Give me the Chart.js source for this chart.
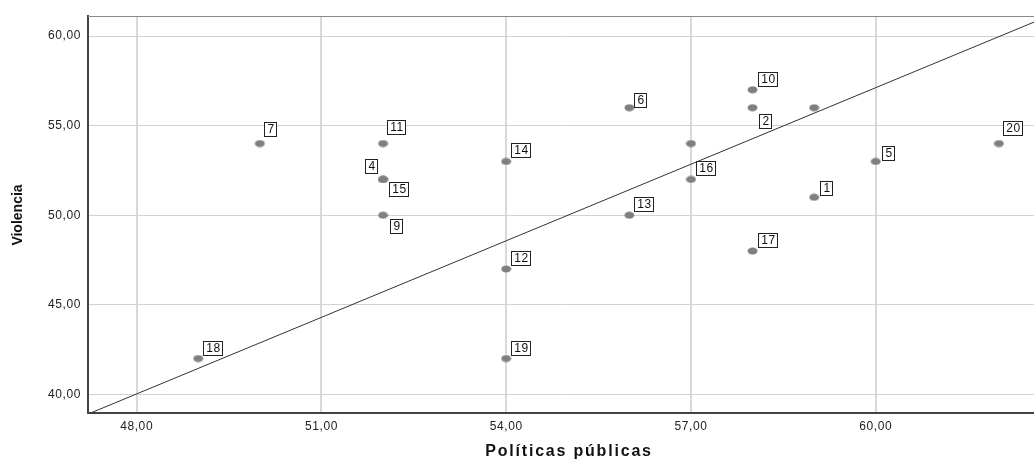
<!DOCTYPE html>
<html lang="es">
<head>
<meta charset="UTF-8">
<title>Violencia vs Políticas públicas</title>
<script src="https://cdn.jsdelivr.net/npm/chart.js"></script>
<style>
  html, body { margin: 0; padding: 0; background: #fff; overflow: hidden; }
  #wrap { width: 1034px; height: 460px; position: relative; }
</style>
</head>
<body>
<div id="wrap"><canvas id="chart"></canvas></div>
<script>
// case data
const caseLabels = ['1', '2', '', '4', '5', '6', '7', '', '9', '10', '11', '12', '13', '14', '15', '16', '17', '18', '19', '20'];
const politicas = [59, 58, 57, 52, 60, 56, 50, 59, 52, 58, 52, 54, 56, 54, 52, 57, 58, 49, 54, 62];
const violencia = [51, 56, 54, 52, 53, 56, 54, 56, 50, 57, 54, 47, 50, 53, 52, 52, 48, 42, 42, 54];

// reference line end points
const lineX = [47.21, 62.57];
const lineY = [38.9, 60.78];

const xTicks = [48, 51, 54, 57, 60];
const yTicks = [40, 45, 50, 55, 60];
const xRange = [47.21, 62.57];
const yRange = [38.96, 61.12];

// label box placement (style): anchor corner + offset from point
const labelPlace = {
    '4':  { side: 'ul', dx: -5, dy: -5 },
    '15': { side: 'dr', dx: 6, dy: 3 },
    '9':  { side: 'dr', dx: 7, dy: 4 },
    '2':  { side: 'dr', dx: 6, dy: 6 },
    '7':  { side: 'ur', dx: 4, dy: -7 },
    '11': { side: 'ur', dx: 4, dy: -9 },
    '20': { side: 'ur', dx: 4, dy: -8 },
    '6':  { side: 'ur', dx: 5, dy: 0 },
    '5':  { side: 'ur', dx: 6, dy: 0 },
    '1':  { side: 'ur', dx: 6, dy: -1 }
};

const FONT = "'Liberation Sans', Arial, sans-serif";

function fmt(v) {
    return Number(v).toFixed(2).replace('.', ',');
}

// grey oval marker
const dot = document.createElement('canvas');
dot.width = 11; dot.height = 8;
(function () {
    const c = dot.getContext('2d');
    c.fillStyle = '#7f7f7f';
    c.beginPath();
    c.ellipse(5.5, 4, 5, 3.5, 0, 0, Math.PI * 2);
    c.fill();
})();

const points = politicas.map((x, i) => ({ x: x, y: violencia[i] }));
const linePts = lineX.map((x, i) => ({ x: x, y: lineY[i] }));

const framePlugin = {
    id: 'frame',
    beforeDraw(chart) {
        // SPSS-like loose letter spacing on tick labels
        chart.ctx.letterSpacing = '0.6px';
    },
    afterDraw(chart) {
        const ctx = chart.ctx;
        const a = chart.chartArea;
        ctx.save();
        ctx.strokeStyle = '#8a8a8a';
        ctx.lineWidth = 1;
        ctx.beginPath();
        ctx.moveTo(a.left, a.top + 0.5);
        ctx.lineTo(a.right, a.top + 0.5);
        ctx.stroke();

        // axis titles
        ctx.fillStyle = '#111';
        ctx.textAlign = 'center';
        ctx.textBaseline = 'middle';
        ctx.letterSpacing = '1.8px';
        ctx.font = 'bold 16px ' + FONT;
        ctx.fillText('Políticas públicas', 569, 452);
        ctx.letterSpacing = '0px';
        ctx.translate(18, 215);
        ctx.rotate(-Math.PI / 2);
        ctx.font = 'bold 14px ' + FONT;
        ctx.fillText('Violencia', 0, 0);
        ctx.restore();
        ctx.letterSpacing = '0px';
    }
};

const labelPlugin = {
    id: 'caseLabels',
    afterDatasetsDraw(chart) {
        const ctx = chart.ctx;
        const meta = chart.getDatasetMeta(1);
        ctx.save();
        ctx.letterSpacing = '0.5px';
        ctx.font = '12px ' + FONT;
        ctx.textBaseline = 'middle';
        ctx.textAlign = 'center';
        meta.data.forEach((el, i) => {
            const txt = caseLabels[i];
            if (!txt) return;
            const p = labelPlace[txt] || { side: 'ur', dx: 5, dy: -3 };
            const w = Math.round(ctx.measureText(txt).width) + 6;
            const h = 15;
            let left, top;
            if (p.side === 'ur') { left = el.x + p.dx; top = el.y + p.dy - h; }
            else if (p.side === 'dr') { left = el.x + p.dx; top = el.y + p.dy; }
            else { left = el.x + p.dx - w; top = el.y + p.dy - h; }
            left = Math.round(left); top = Math.round(top);
            ctx.fillStyle = '#fff';
            ctx.fillRect(left, top, w, h);
            ctx.strokeStyle = '#222';
            ctx.lineWidth = 1;
            ctx.strokeRect(left + 0.5, top + 0.5, w - 1, h - 1);
            ctx.fillStyle = '#111';
            ctx.fillText(txt, left + w / 2 + 0.5, top + h / 2 + 0.5);
        });
        ctx.restore();
    }
};

new Chart(document.getElementById('chart'), {
    type: 'scatter',
    data: {
        datasets: [{
            type: 'line',
            data: linePts,
            borderColor: '#333',
            borderWidth: 1,
            pointRadius: 0,
            fill: false
        }, {
            data: points,
            pointStyle: dot,
            pointRadius: 5,
            pointHoverRadius: 5
        }]
    },
    options: {
        responsive: true,
        maintainAspectRatio: false,
        animation: false,
        layout: { autoPadding: false, padding: { top: 16, left: 0, right: 0, bottom: 0 } },
        plugins: {
            legend: { display: false },
            tooltip: { enabled: false }
        },
        scales: {
            x: {
                type: 'linear',
                min: xRange[0],
                max: xRange[1],
                afterBuildTicks: s => { s.ticks = xTicks.map(v => ({ value: v })); },
                afterFit: s => { s.height = 47; s.paddingLeft = 0; s.paddingRight = 0; },
                ticks: {
                    callback: v => fmt(v),
                    color: '#222',
                    font: { family: FONT, size: 12 },
                    padding: 6,
                    maxRotation: 0
                },
                grid: { color: '#d9d9d9', lineWidth: 2, drawTicks: false },
                border: { color: '#444', width: 2 }
            },
            y: {
                type: 'linear',
                min: yRange[0],
                max: yRange[1],
                afterBuildTicks: s => { s.ticks = yTicks.map(v => ({ value: v })); },
                afterFit: s => { s.width = 88; s.paddingTop = 0; s.paddingBottom = 0; },
                ticks: {
                    callback: v => fmt(v),
                    color: '#222',
                    font: { family: FONT, size: 12 },
                    padding: 7
                },
                grid: { color: '#d2d2d2', lineWidth: 1, drawTicks: false },
                border: { color: '#444', width: 2 }
            }
        }
    },
    plugins: [framePlugin, labelPlugin]
});
</script>
</body>
</html>
